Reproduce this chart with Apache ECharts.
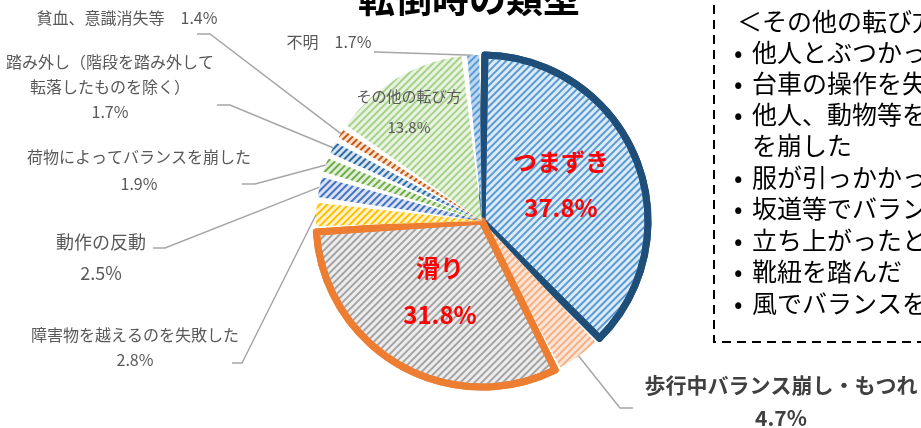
<!DOCTYPE html>
<html>
<head>
<meta charset="utf-8">
<script src="https://cdn.jsdelivr.net/npm/echarts@6/dist/echarts.min.js"></script>
<style>
  html, body { margin: 0; padding: 0; background: #fff; }
  #main { width: 921px; height: 428px; }
</style>
</head>
<body>
<div id="main"></div>
<script>
// data
const categories = [
  'つまずき',
  '歩行中バランス崩し・もつれ',
  '滑り',
  '障害物を越えるのを失敗した',
  '動作の反動',
  '荷物によってバランスを崩した',
  '踏み外し（階段を踏み外して\n転落したものを除く）',
  '貧血、意識消失等',
  'その他の転び方',
  '不明'
];
const values = [37.8, 4.7, 31.8, 2.8, 2.5, 1.9, 1.7, 1.4, 13.8, 1.7];

const noteTitle = '＜その他の転び方＞';
const noteItems = [
  '他人とぶつかった',
  '台車の操作を失敗した',
  '他人、動物等をよけてバランス',
  'を崩した',
  '服が引っかかった',
  '坂道等でバランスを崩した',
  '立ち上がったときにふらついた',
  '靴紐を踏んだ',
  '風でバランスを崩した'
];

// styles per slice: fill, stripe
const sliceStyle = [
  { bg: '#DDEBF7', stripe: '#5B9BD5', border: '#1F4E79', bw: 7 },
  { bg: '#FCE4D6', stripe: '#F4B183' },
  { bg: '#EDEDED', stripe: '#A5A5A5', border: '#ED7D31', bw: 7 },
  { bg: '#FFF2CC', stripe: '#FFC000' },
  { bg: '#DAE3F3', stripe: '#4472C4' },
  { bg: '#E2F0D9', stripe: '#70AD47' },
  { bg: '#D6E4F0', stripe: '#2E6DA4' },
  { bg: '#FBE0CF', stripe: '#C55A11' },
  { bg: '#E8F3E0', stripe: '#A9D18E' },
  { bg: '#BDD7EE', stripe: '#5B9BD5' }
];

// label placement
const labelPos = [
  { x: 561, y: 185, lh: 46, inner: true, big: true },
  { x: 781, y: 402, lh: 33, bold: true, line: [[620, 408], [633, 408]] },
  { x: 440, y: 291, lh: 47, inner: true, big: true },
  { x: 135, y: 347, lh: 25, line: [[242, 363], [232, 363]] },
  { x: 101, y: 258, lh: 31, fs: 18, line: [[165, 248], [153, 248]] },
  { x: 139, y: 170, lh: 27, line: [[255, 184], [242, 184]] },
  { x: 110, y: 87, lh: 25, line: [[230, 105], [217, 105]] },
  { x: 127, y: 18, lh: 20, one: true, line: [[210, 34], [197, 34]] },
  { x: 409, y: 112, lh: 31, inner: true },
  { x: 329, y: 42, lh: 20, one: true, line: [[376, 52], [374, 52]] }
];

const FONT = '"Noto Sans CJK JP", "Noto Sans", sans-serif';

const pieData = categories.map((name, i) => {
  const s = sliceStyle[i];
  const L = labelPos[i];
  const label = {
    show: true,
    position: L.inner ? 'inner' : 'outside',
    fontFamily: FONT,
    lineHeight: L.lh,
    fontSize: L.fs || 16,
    color: '#595959'
  };
  if (L.big) {
    label.color = '#FF0000';
    label.fontSize = 24;
    label.fontWeight = 'bold';
  } else if (L.bold) {
    label.color = '#404040';
    label.fontSize = 21;
    label.fontWeight = 'bold';
  } else if (L.inner) {
    label.fontSize = 15;
  }
  return {
    name: name,
    value: values[i],
    itemStyle: {
      color: s.bg,
      borderColor: s.border || 'rgba(255,255,255,0)',
      borderWidth: s.bw || 0,
      decal: {
        symbol: 'rect',
        symbolSize: 1,
        color: s.stripe,
        dashArrayX: [1, 0],
        dashArrayY: [1.5, 2.3],
        rotation: -Math.PI / 4
      }
    },
    label: label,
    labelLine: { show: !L.inner }
  };
});

const chart = echarts.init(document.getElementById('main'));

const graphics = [
  {
    type: 'text',
    style: {
      x: 469, y: -1,
      text: '転倒時の類型',
      font: 'bold 37px ' + FONT,
      fill: '#000',
      align: 'center',
      verticalAlign: 'middle'
    }
  },
  {
    type: 'rect',
    shape: { x: 714, y: -20, width: 300, height: 362 },
    style: { fill: 'none', stroke: '#000', lineWidth: 2, lineDash: [9, 6] }
  },
  {
    type: 'text',
    style: {
      x: 737, y: 21, text: noteTitle,
      font: '25px ' + FONT, fill: '#000', verticalAlign: 'middle'
    }
  }
];
const noteY = [52, 83, 114, 145, 177, 208, 240, 271, 303];
noteItems.forEach((t, i) => {
  const cont = t === 'を崩した';
  if (!cont) {
    graphics.push({
      type: 'text',
      style: { x: 734, y: noteY[i], text: '•', font: '25px ' + FONT, fill: '#000', verticalAlign: 'middle' }
    });
  }
  graphics.push({
    type: 'text',
    style: { x: 752, y: noteY[i], text: t, font: '25px ' + FONT, fill: '#000', verticalAlign: 'middle' }
  });
});

const option = {
  animation: false,
  aria: { enabled: true, decal: { show: true } },
  graphic: graphics,
  series: [
    {
      type: 'pie',
      center: [482, 221],
      radius: 166,
      startAngle: 90,
      clockwise: true,
      padAngle: 2,
      avoidLabelOverlap: false,
      emphasis: { disabled: true },
      label: {
        formatter: function (p) {
          const L = labelPos[p.dataIndex];
          return L.one ? p.name + '　' + p.value + '%' : p.name + '\n' + p.value + '%';
        }
      },
      labelLine: {
        lineStyle: { color: '#A6A6A6', width: 1.5 }
      },
      labelLayout: function (params) {
        const L = labelPos[params.dataIndex];
        const out = { x: L.x, y: L.y, align: 'center', verticalAlign: 'middle' };
        if (L.line && params.labelLinePoints) {
          out.labelLinePoints = [params.labelLinePoints[0], L.line[0], L.line[1]];
        }
        return out;
      },
      data: pieData
    }
  ]
};

chart.setOption(option);
</script>
</body>
</html>
